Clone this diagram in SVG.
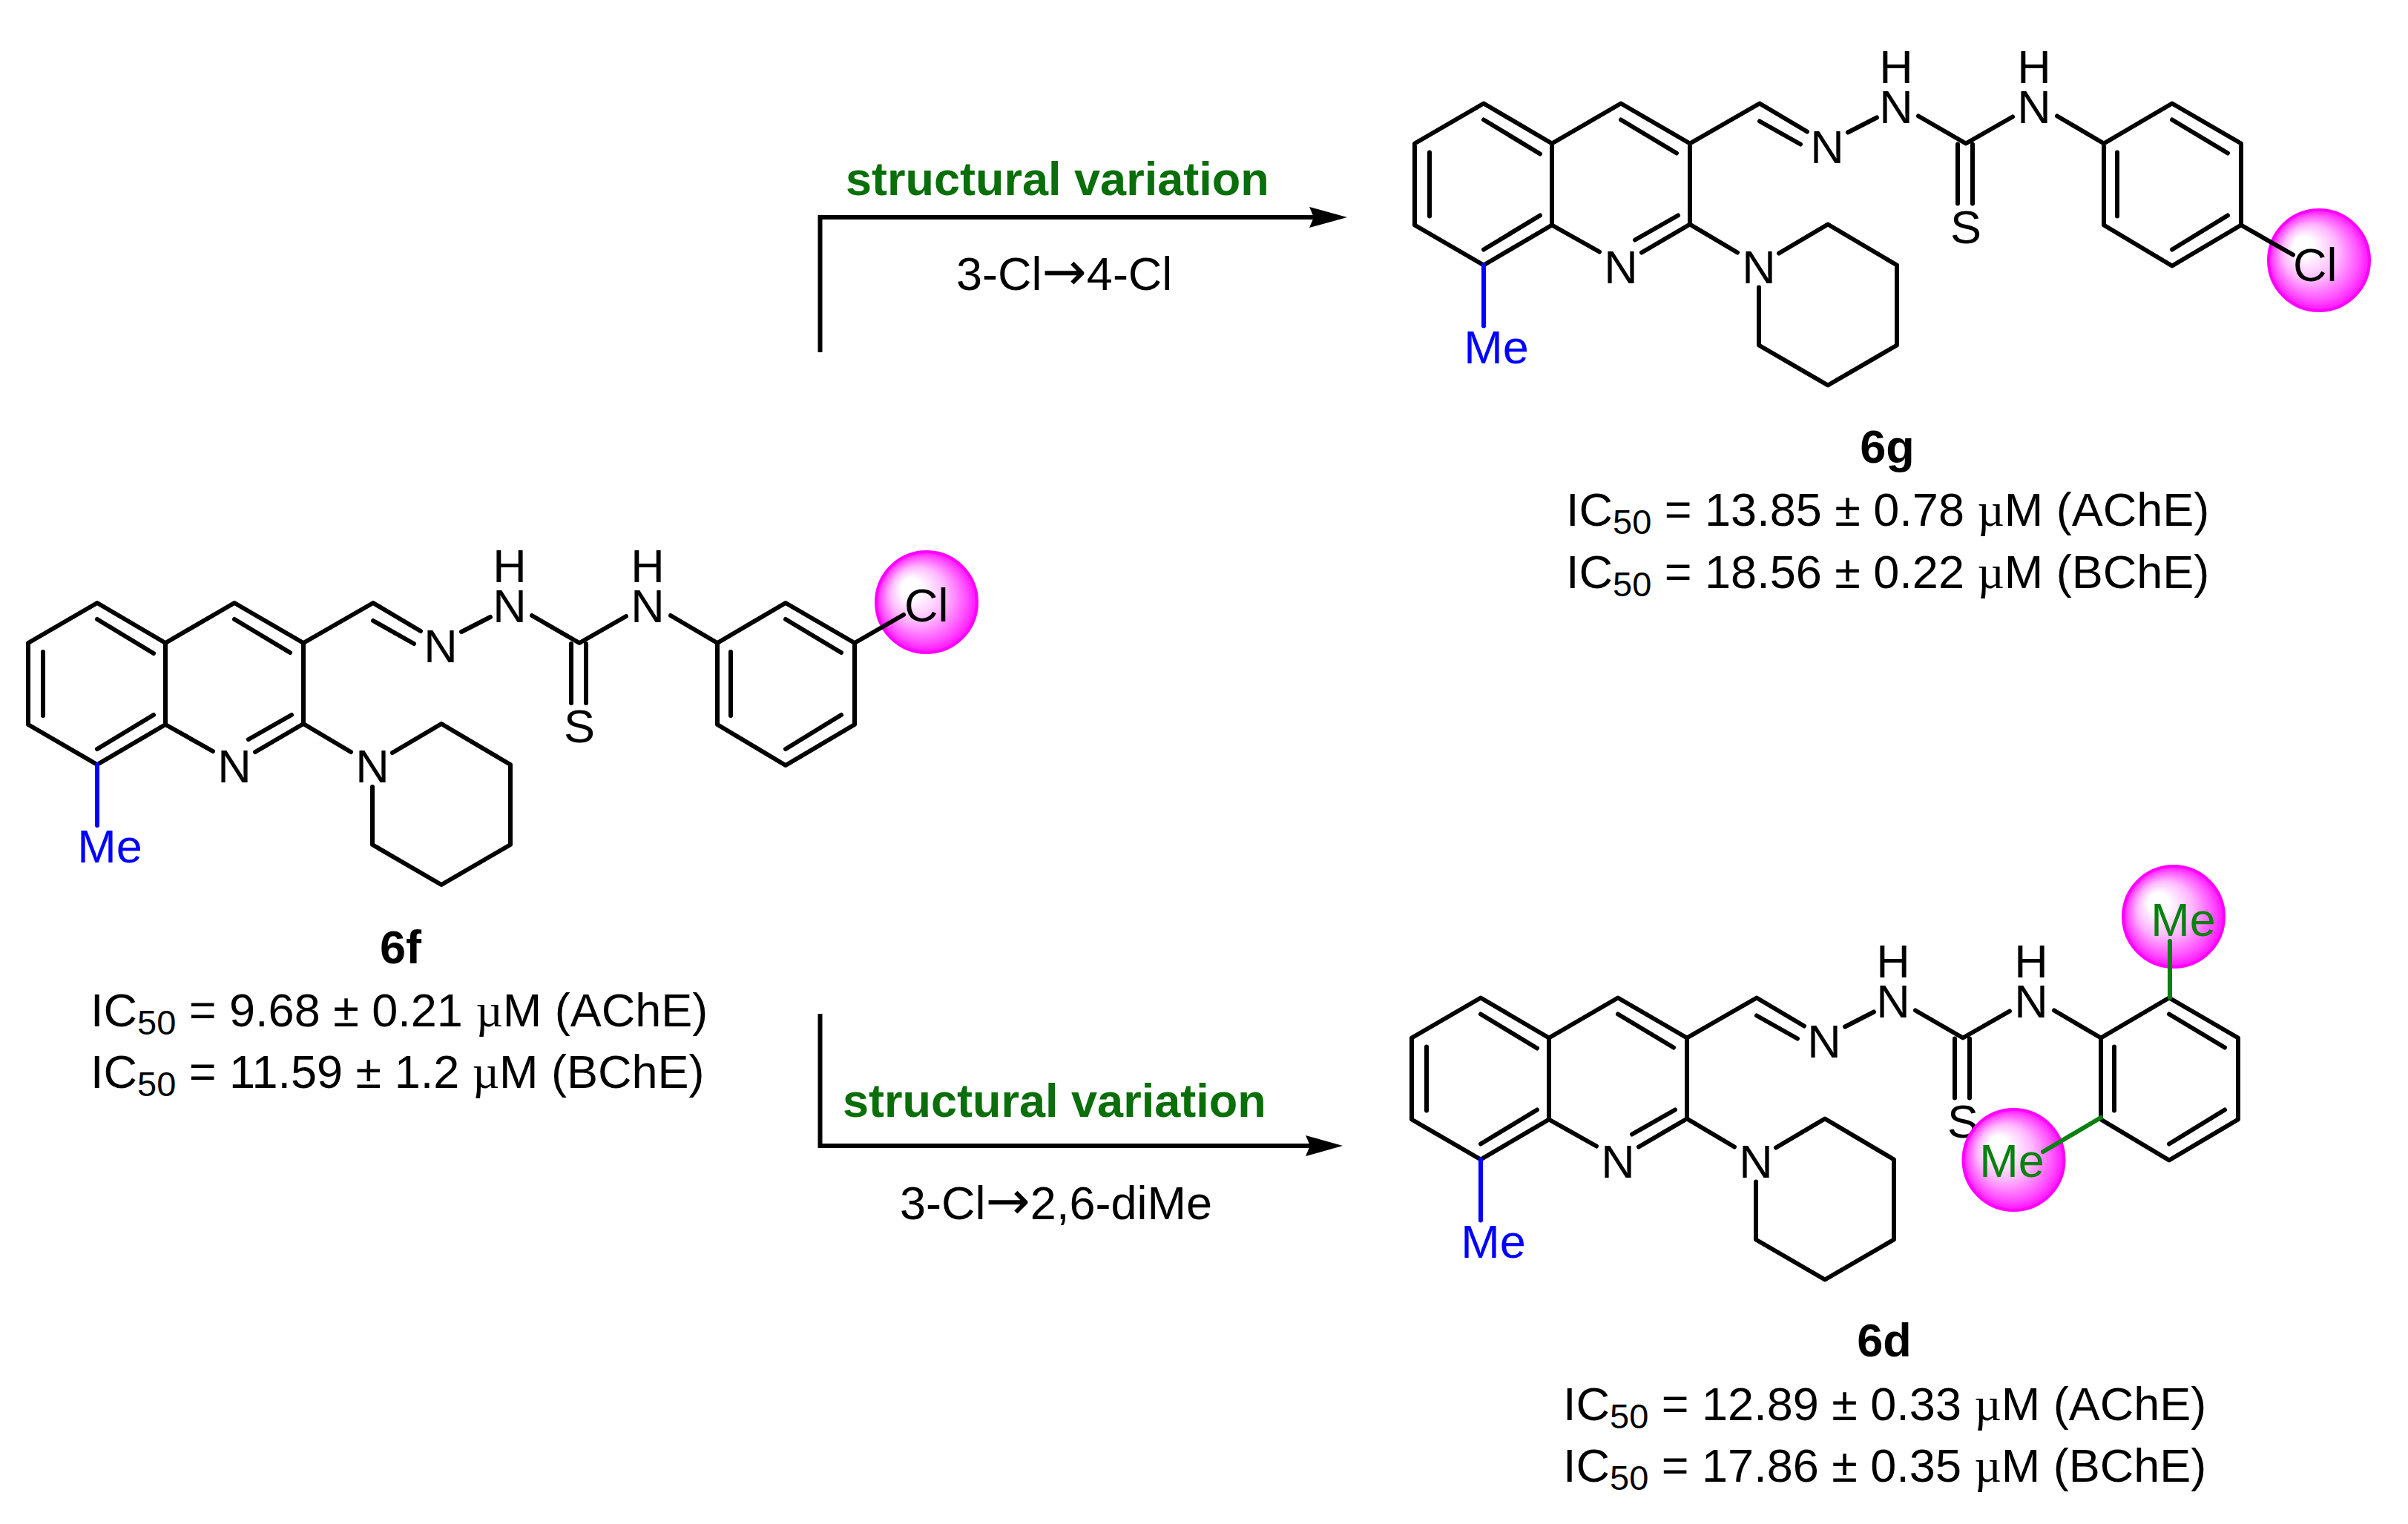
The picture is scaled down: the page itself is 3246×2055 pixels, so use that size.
<svg xmlns="http://www.w3.org/2000/svg" xmlns:xlink="http://www.w3.org/1999/xlink" width="3246" height="2055" viewBox="0 0 3246 2055">
<style>
text{font-family:"Liberation Sans",Arial,sans-serif;font-size:63px;fill:#000}
.m{text-anchor:middle}
.b{font-weight:bold}
.sv{font-weight:bold;fill:#0a6e0a}
.blue{fill:#0000ff}
.green{fill:#0a8010}
.bond{fill:none;stroke:#000;stroke-width:6;stroke-linecap:round;stroke-linejoin:round}
.bb{fill:none;stroke:#0000ff;stroke-width:6;stroke-linecap:round}
.bg{fill:none;stroke:#0a8010;stroke-width:6;stroke-linecap:round}
.ar{fill:none;stroke:#000;stroke-width:6;stroke-linejoin:miter}
.hd{fill:#000}
.sub{font-size:47px}
.mu{font-family:"Liberation Serif",serif}
.arw{font-family:"DejaVu Sans",sans-serif;font-size:72px}
.ball{fill:url(#g);stroke:#ff00ff;stroke-width:4}
</style>
<defs>
<radialGradient id="g" cx="0.5" cy="0.5" r="0.5" fx="0.31" fy="0.33">
<stop offset="0" stop-color="#fff"/>
<stop offset="0.2" stop-color="#fff"/>
<stop offset="0.55" stop-color="#ffb8ff"/>
<stop offset="0.85" stop-color="#ff50ff"/>
<stop offset="1" stop-color="#ff10ff"/>
</radialGradient>
<path id="core" class="bond" d="M131 813L38 867L38 977L131 1031L223 977L223 867ZM223 867L316 813L409 867L409 976L344 1014M223 977L287 1013M131 835L207 881M58 879L58 965M131 1010L207 964M316 835L391 880M335 997L393 964M409 867L503 813L567 851M503 837L558 868M622 852L661 832M717 830L781 867L844 831M904 830L967 867M770 868L770 948M790 868L790 948M967 867L1059 813L1152 867L1152 977L1059 1032L967 977ZM1059 835L1134 880M985 879L985 965M1059 1010L1134 964M409 976L473 1014M529 1015L595 976L688 1031L688 1139L595 1193L502 1139L502 1061"/>
<path id="me" class="bb" d="M131 1031L131 1113"/>
</defs>
<rect width="3246" height="2055" fill="#fff"/>
<g id="connectors">
<path class="ar" d="M1105.500 475L1105.500 293L1775 293"/>
<path class="hd" d="M1816 293L1765 279L1771 293L1765 307Z"/>
<path class="ar" d="M1105.500 1367L1105.500 1545L1770 1545"/>
<path class="hd" d="M1810 1545L1760 1531L1766 1545L1760 1559Z"/>
</g>
<g id="label-top">
<text class="sv" x="1140" y="263">structural variation</text>
<text x="1289" y="391">3-Cl<tspan class="arw">→</tspan>4-Cl</text>
</g>
<g id="label-bottom">
<text class="sv" x="1136" y="1506">structural variation</text>
<text x="1213" y="1644">3-Cl<tspan class="arw">→</tspan>2,6-diMe</text>
</g>
<g id="node-6f">
<circle class="ball" cx="1249" cy="812" r="68"/>
<use href="#core"/><use href="#me"/>
<path class="bond" d="M1152 867L1218 829"/>
<text class="m blue" x="148" y="1163">Me</text>
<text class="m" x="316" y="1055">N</text><text class="m" x="502" y="1055">N</text>
<text class="m" x="594" y="893">N</text>
<text class="m" x="687" y="839">N</text><text class="m" x="687" y="785">H</text>
<text class="m" x="873" y="839">N</text><text class="m" x="873" y="785">H</text>
<text class="m" x="781" y="1001">S</text>
<text x="1219" y="838">Cl</text>
<text class="m b" x="540" y="1299">6f</text>
<text x="122" y="1384">IC<tspan class="sub" dy="11">50</tspan><tspan dy="-11"> = 9.68 ± 0.21 </tspan><tspan class="mu">µ</tspan>M (AChE)</text>
<text x="122" y="1467">IC<tspan class="sub" dy="11">50</tspan><tspan dy="-11"> = 11.59 ± 1.2 </tspan><tspan class="mu">µ</tspan>M (BChE)</text>
</g>
<g id="node-6g">
<circle class="ball" cx="3126" cy="351" r="68"/>
<g transform="translate(1869 -673.500)">
<use href="#core"/><use href="#me"/>
<path class="bond" d="M1152 977L1222 1017"/>
<text class="m blue" x="148" y="1163">Me</text>
<text class="m" x="316" y="1055">N</text><text class="m" x="502" y="1055">N</text>
<text class="m" x="594" y="893">N</text>
<text class="m" x="687" y="839">N</text><text class="m" x="687" y="785">H</text>
<text class="m" x="873" y="839">N</text><text class="m" x="873" y="785">H</text>
<text class="m" x="781" y="1001">S</text>
</g>
<text x="3091" y="379">Cl</text>
<text class="m b" x="2544" y="624">6g</text>
<text x="2111" y="709">IC<tspan class="sub" dy="11">50</tspan><tspan dy="-11"> = 13.85 ± 0.78 </tspan><tspan class="mu">µ</tspan>M (AChE)</text>
<text x="2111" y="793">IC<tspan class="sub" dy="11">50</tspan><tspan dy="-11"> = 18.56 ± 0.22 </tspan><tspan class="mu">µ</tspan>M (BChE)</text>
</g>
<g id="node-6d">
<g transform="translate(1865 532.500)">
<use href="#core"/><use href="#me"/>
<text class="m blue" x="148" y="1163">Me</text>
<text class="m" x="316" y="1055">N</text><text class="m" x="502" y="1055">N</text>
<text class="m" x="594" y="893">N</text>
<text class="m" x="687" y="839">N</text><text class="m" x="687" y="785">H</text>
<text class="m" x="873" y="839">N</text><text class="m" x="873" y="785">H</text>
<text class="m" x="781" y="1001">S</text>
</g>
<circle class="ball" cx="2930" cy="1236" r="68"/>
<circle class="ball" cx="2714.500" cy="1564" r="68"/>
<path class="bg" d="M2925 1345L2925 1269M2832 1507L2754 1553"/>
<text class="m green" x="2943" y="1262">Me</text>
<text class="m green" x="2712" y="1587">Me</text>
<text class="m b" x="2540" y="1829">6d</text>
<text x="2107" y="1915">IC<tspan class="sub" dy="11">50</tspan><tspan dy="-11"> = 12.89 ± 0.33 </tspan><tspan class="mu">µ</tspan>M (AChE)</text>
<text x="2107" y="1998">IC<tspan class="sub" dy="11">50</tspan><tspan dy="-11"> = 17.86 ± 0.35 </tspan><tspan class="mu">µ</tspan>M (BChE)</text>
</g>
</svg>
